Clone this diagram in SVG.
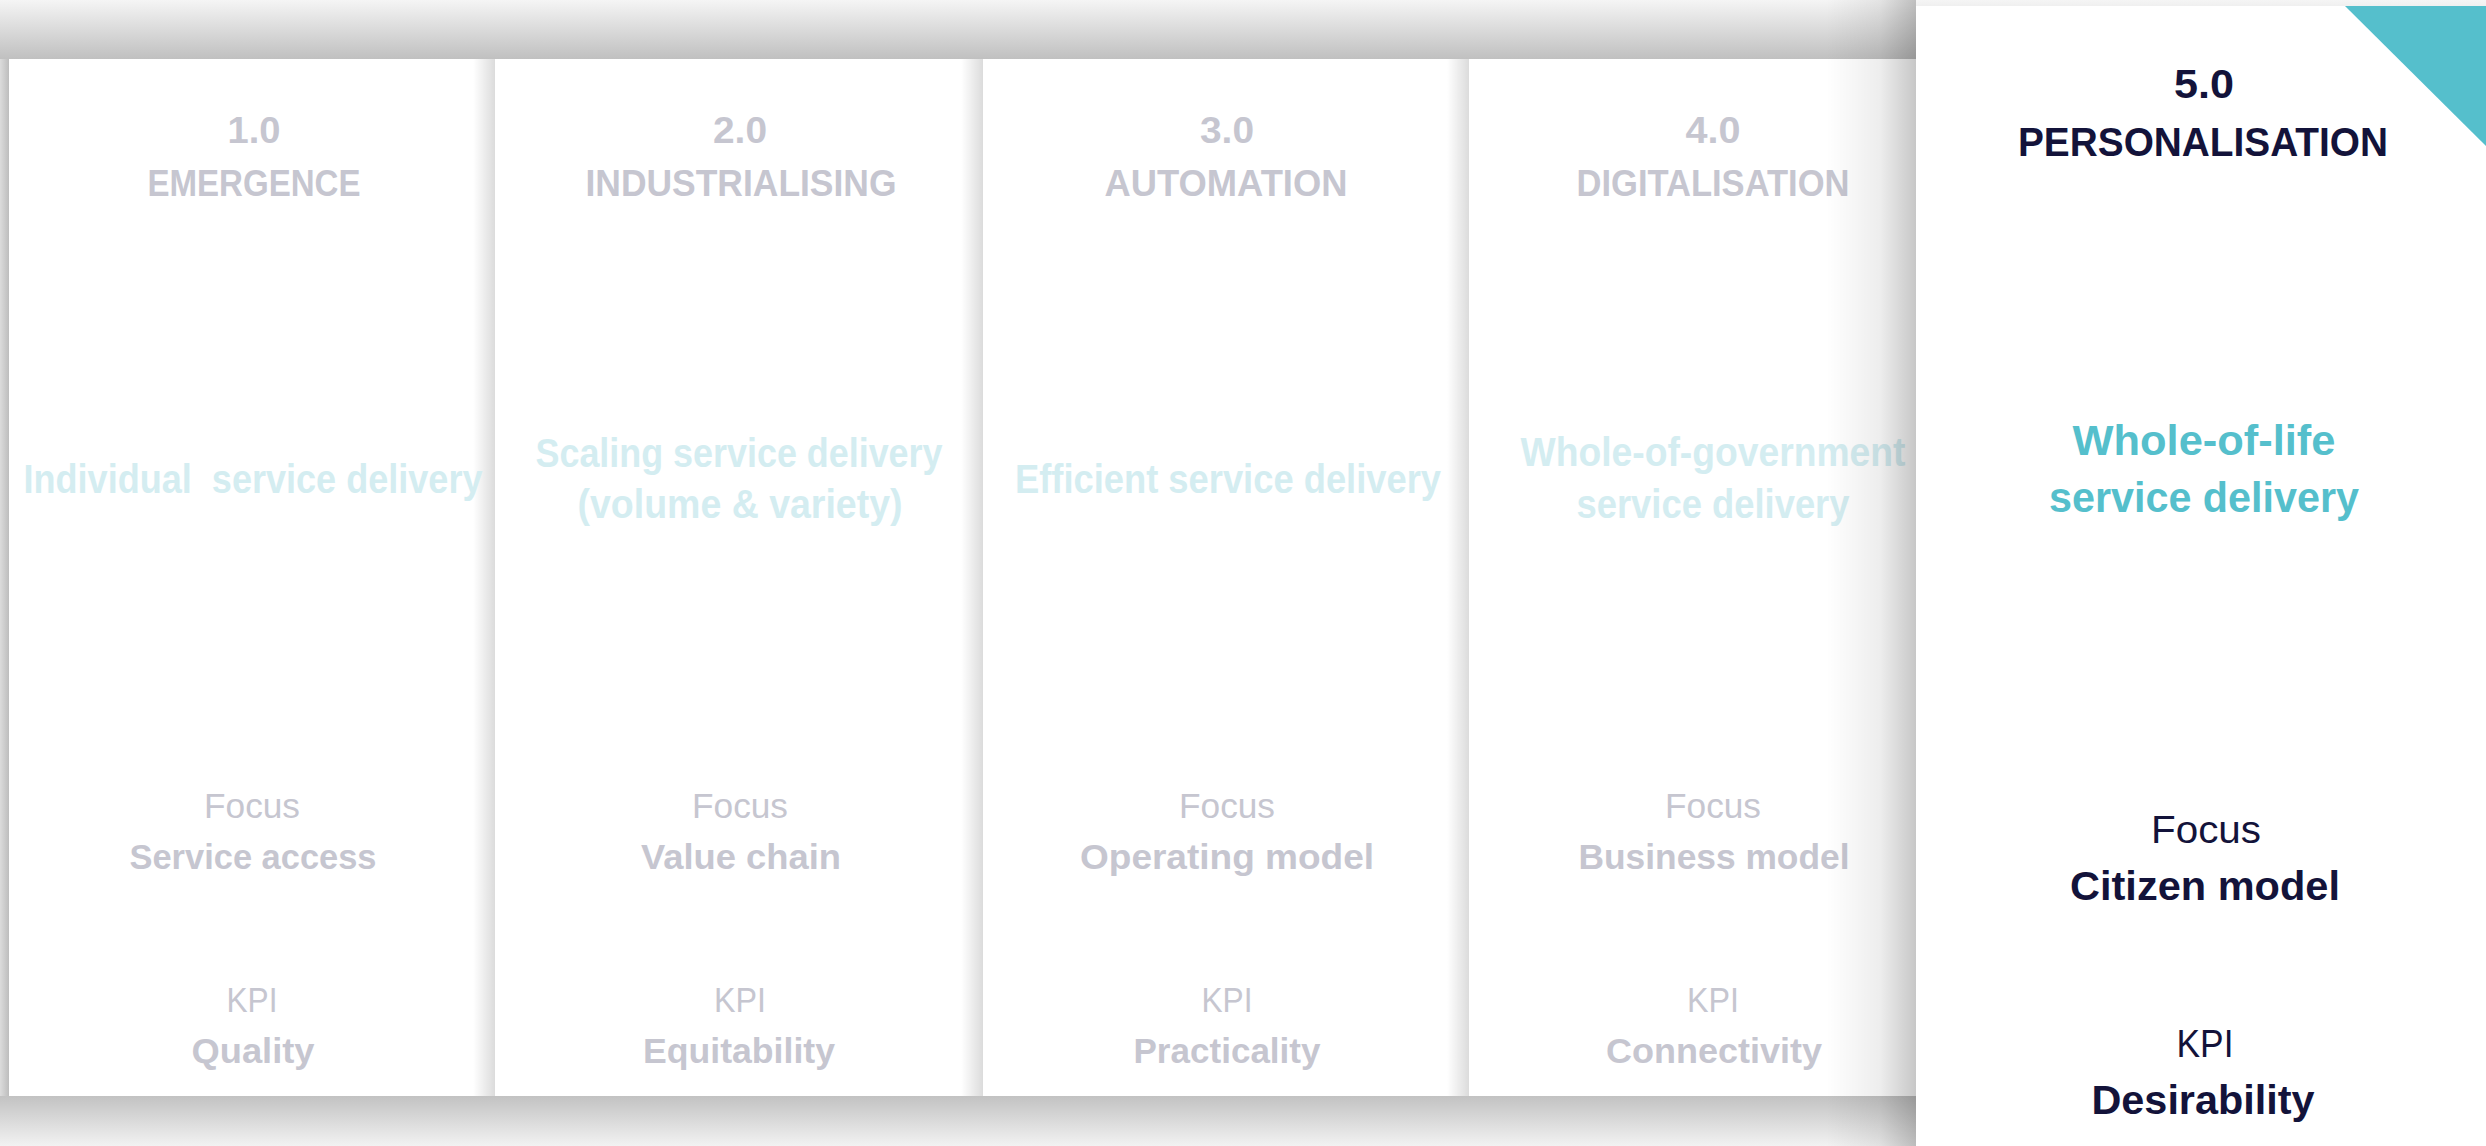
<svg xmlns="http://www.w3.org/2000/svg" width="2486" height="1146" viewBox="0 0 2486 1146">
<defs>
<linearGradient id="topBand" x1="0" y1="0" x2="0" y2="1">
<stop offset="0" stop-color="#f5f5f5"/><stop offset="1" stop-color="#c0c0c0"/>
</linearGradient>
<linearGradient id="botBand" x1="0" y1="0" x2="0" y2="1">
<stop offset="0" stop-color="#c2c2c2"/><stop offset="1" stop-color="#f2f2f2"/>
</linearGradient>
<linearGradient id="leftBand" x1="0" y1="0" x2="1" y2="0">
<stop offset="0" stop-color="#dcdcdc"/><stop offset="1" stop-color="#bdbdbd"/>
</linearGradient>
<linearGradient id="colShadow" x1="0" y1="0" x2="1" y2="0">
<stop offset="0" stop-color="#000" stop-opacity="0"/><stop offset="1" stop-color="#000" stop-opacity="0.14"/>
</linearGradient>
<linearGradient id="bigShadow" x1="0" y1="0" x2="1" y2="0">
<stop offset="0" stop-color="#000" stop-opacity="0"/><stop offset="0.6" stop-color="#000" stop-opacity="0.07"/><stop offset="1" stop-color="#000" stop-opacity="0.22"/>
</linearGradient>
</defs>
<style>
text{font-family:"Liberation Sans",Arial,sans-serif;text-anchor:middle}
.head{font-size:36px;font-weight:bold;fill:#c6c6d0}
.mid{font-size:40px;font-weight:bold;fill:#d4edf1}
.lbl{font-size:35px;font-weight:normal;fill:#c6c6d0}
.val{font-size:35px;font-weight:bold;fill:#c6c6d0}
.head5{font-size:41px;font-weight:bold;fill:#13133a}
.mid5{font-size:42px;font-weight:bold;fill:#55bfcc}
.lbl5{font-size:39px;font-weight:normal;fill:#13133a}
.val5{font-size:41px;font-weight:bold;fill:#13133a}
</style>
<rect x="0" y="0" width="2486" height="1146" fill="#ffffff"/>
<rect x="0" y="0" width="2486" height="59" fill="url(#topBand)"/>
<rect x="0" y="1096" width="1916" height="50" fill="url(#botBand)"/>
<rect x="0" y="59" width="9" height="1037" fill="url(#leftBand)"/>

<g id="stage1">
<rect x="9" y="59" width="486" height="1037" fill="#ffffff"/>
<rect x="473" y="59" width="22" height="1037" fill="url(#colShadow)"/>
<text class="head" x="254" y="143" textLength="53" lengthAdjust="spacingAndGlyphs">1.0</text>
<text class="head" x="254" y="196" textLength="213" lengthAdjust="spacingAndGlyphs">EMERGENCE</text>
<text class="mid" x="253" y="493" textLength="459" lengthAdjust="spacingAndGlyphs" xml:space="preserve">Individual  service delivery</text>
<text class="lbl" x="252" y="818" textLength="96" lengthAdjust="spacingAndGlyphs">Focus</text>
<text class="val" x="253" y="869" textLength="247" lengthAdjust="spacingAndGlyphs">Service access</text>
<text class="lbl" x="252" y="1012" textLength="51" lengthAdjust="spacingAndGlyphs">KPI</text>
<text class="val" x="253" y="1063" textLength="123" lengthAdjust="spacingAndGlyphs">Quality</text>
</g>

<g id="stage2">
<rect x="495" y="59" width="488" height="1037" fill="#ffffff"/>
<rect x="961" y="59" width="22" height="1037" fill="url(#colShadow)"/>
<text class="head" x="740" y="143" textLength="54" lengthAdjust="spacingAndGlyphs">2.0</text>
<text class="head" x="741" y="196" textLength="311" lengthAdjust="spacingAndGlyphs">INDUSTRIALISING</text>
<text class="mid" x="739" y="467" textLength="407" lengthAdjust="spacingAndGlyphs">Scaling service delivery</text>
<text class="mid" x="740" y="518" textLength="325" lengthAdjust="spacingAndGlyphs">(volume &amp; variety)</text>
<text class="lbl" x="740" y="818" textLength="96" lengthAdjust="spacingAndGlyphs">Focus</text>
<text class="val" x="741" y="869" textLength="200" lengthAdjust="spacingAndGlyphs">Value chain</text>
<text class="lbl" x="740" y="1012" textLength="52" lengthAdjust="spacingAndGlyphs">KPI</text>
<text class="val" x="739" y="1063" textLength="192" lengthAdjust="spacingAndGlyphs">Equitability</text>
</g>

<g id="stage3">
<rect x="983" y="59" width="486" height="1037" fill="#ffffff"/>
<rect x="1447" y="59" width="22" height="1037" fill="url(#colShadow)"/>
<text class="head" x="1227" y="143" textLength="54" lengthAdjust="spacingAndGlyphs">3.0</text>
<text class="head" x="1226" y="196" textLength="243" lengthAdjust="spacingAndGlyphs">AUTOMATION</text>
<text class="mid" x="1228" y="493" textLength="426" lengthAdjust="spacingAndGlyphs">Efficient service delivery</text>
<text class="lbl" x="1227" y="818" textLength="96" lengthAdjust="spacingAndGlyphs">Focus</text>
<text class="val" x="1227" y="869" textLength="294" lengthAdjust="spacingAndGlyphs">Operating model</text>
<text class="lbl" x="1227" y="1012" textLength="51" lengthAdjust="spacingAndGlyphs">KPI</text>
<text class="val" x="1227" y="1063" textLength="187" lengthAdjust="spacingAndGlyphs">Practicality</text>
</g>

<g id="stage4">
<rect x="1469" y="59" width="447" height="1037" fill="#ffffff"/>
<text class="head" x="1713" y="143" textLength="55" lengthAdjust="spacingAndGlyphs">4.0</text>
<text class="head" x="1713" y="196" textLength="273" lengthAdjust="spacingAndGlyphs">DIGITALISATION</text>
<text class="mid" x="1713" y="466" textLength="385" lengthAdjust="spacingAndGlyphs">Whole-of-government</text>
<text class="mid" x="1713" y="518" textLength="273" lengthAdjust="spacingAndGlyphs">service delivery</text>
<text class="lbl" x="1713" y="818" textLength="96" lengthAdjust="spacingAndGlyphs">Focus</text>
<text class="val" x="1714" y="869" textLength="271" lengthAdjust="spacingAndGlyphs">Business model</text>
<text class="lbl" x="1713" y="1012" textLength="52" lengthAdjust="spacingAndGlyphs">KPI</text>
<text class="val" x="1714" y="1063" textLength="216" lengthAdjust="spacingAndGlyphs">Connectivity</text>
</g>

<rect x="1826" y="0" width="90" height="1146" fill="url(#bigShadow)"/>

<g id="stage5">
<rect x="1916" y="6" width="570" height="1140" fill="#ffffff"/>
<polygon points="2345,6 2486,6 2486,146" fill="#55bfcc"/>
<text class="head5" x="2204" y="98" textLength="60" lengthAdjust="spacingAndGlyphs">5.0</text>
<text class="head5" x="2203" y="156" textLength="370" lengthAdjust="spacingAndGlyphs">PERSONALISATION</text>
<text class="mid5" x="2204" y="455" textLength="263" lengthAdjust="spacingAndGlyphs">Whole-of-life</text>
<text class="mid5" x="2204" y="512" textLength="310" lengthAdjust="spacingAndGlyphs">service delivery</text>
<text class="lbl5" x="2206" y="843" textLength="110" lengthAdjust="spacingAndGlyphs">Focus</text>
<text class="val5" x="2205" y="900" textLength="270" lengthAdjust="spacingAndGlyphs">Citizen model</text>
<text class="lbl5" x="2205" y="1057" textLength="57" lengthAdjust="spacingAndGlyphs">KPI</text>
<text class="val5" x="2203" y="1114" textLength="223" lengthAdjust="spacingAndGlyphs">Desirability</text>
</g>
</svg>
